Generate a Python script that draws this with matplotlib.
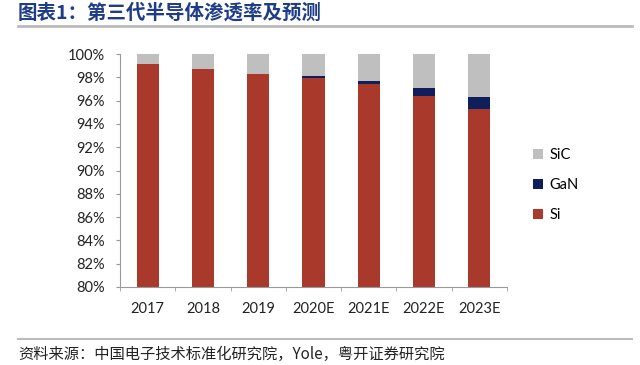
import numpy as np
import matplotlib.pyplot as plt
from matplotlib.lines import Line2D
from matplotlib.ticker import FuncFormatter, FixedLocator

plt.rcParams['font.family'] = ['Lato', 'Noto Sans CJK SC', 'DejaVu Sans']

# data (percent share)
years = ['2017', '2018', '2019', '2020E', '2021E', '2022E', '2023E']
si = [99.1, 98.7, 98.3, 97.9, 97.4, 96.4, 95.3]
gan = [0.0, 0.0, 0.0, 0.2, 0.3, 0.65, 1.0]
sic = [100 - a - b for a, b in zip(si, gan)]

c_si = '#A93A2B'
c_gan = '#0E1F5B'
c_sic = '#BFBFBF'

fig = plt.figure(figsize=(6.4, 3.65), dpi=100)
ax = fig.add_axes([120/640, 1-287/365, (507-120)/640, (287-54)/365])

x = np.arange(len(years))
w = 0.4
b1 = ax.bar(x, si, w, color=c_si, label='Si')
b2 = ax.bar(x, gan, w, bottom=si, color=c_gan, label='GaN')
b3 = ax.bar(x, sic, w, bottom=np.array(si) + np.array(gan), color=c_sic, label='SiC')

ax.set_ylim(80, 100)
ax.set_xlim(-0.5, len(years) - 0.5)
ax.set_yticks(np.arange(80, 101, 2))
ax.yaxis.set_major_formatter(FuncFormatter(lambda v, p: '%d%%' % v))
ax.set_xticks(x)
ax.set_xticklabels(years)
ax.xaxis.set_minor_locator(FixedLocator(np.arange(-0.5, len(years), 1)))
ax.tick_params(axis='x', which='major', length=0, pad=11, labelsize=10.5, colors='#222222')
ax.tick_params(axis='x', which='minor', length=3, color='#999999')
ax.tick_params(axis='y', length=3, color='#999999', labelsize=10.5, labelcolor='#222222', pad=8)

for s in ['top', 'right']:
    ax.spines[s].set_visible(False)
for s in ['left', 'bottom']:
    ax.spines[s].set_color('#999999')
    ax.spines[s].set_linewidth(0.8)

# legend, SiC on top
leg = fig.legend([b3, b2, b1], ['SiC', 'GaN', 'Si'], loc='upper left',
                 bbox_to_anchor=(520/640, 1-135/365), frameon=False,
                 handlelength=0.7, handleheight=0.7, handletextpad=0.4,
                 labelspacing=1.1, fontsize=10.5)

# header / footer
fig.text(18/640, 1-13/365, '图表1：第三代半导体渗透率及预测', fontsize=14, fontweight='bold',
         color='#1F3C88', va='center', ha='left', family=['Noto Sans CJK SC', 'DejaVu Sans'])
fig.add_artist(Line2D([18/640, 632/640], [1-25.5/365, 1-25.5/365], color='#BBBBBB', lw=2))
fig.add_artist(Line2D([18/640, 632/640], [1-339/365, 1-339/365], color='#BBBBBB', lw=1.5))
fig.text(18/640, 1-354/365, '资料来源：中国电子技术标准化研究院，Yole，粤开证券研究院', fontsize=11,
         style='italic', color='#222222', va='center', ha='left',
         family=['Noto Sans CJK SC', 'DejaVu Sans'])

plt.savefig('out.png', dpi=100)
